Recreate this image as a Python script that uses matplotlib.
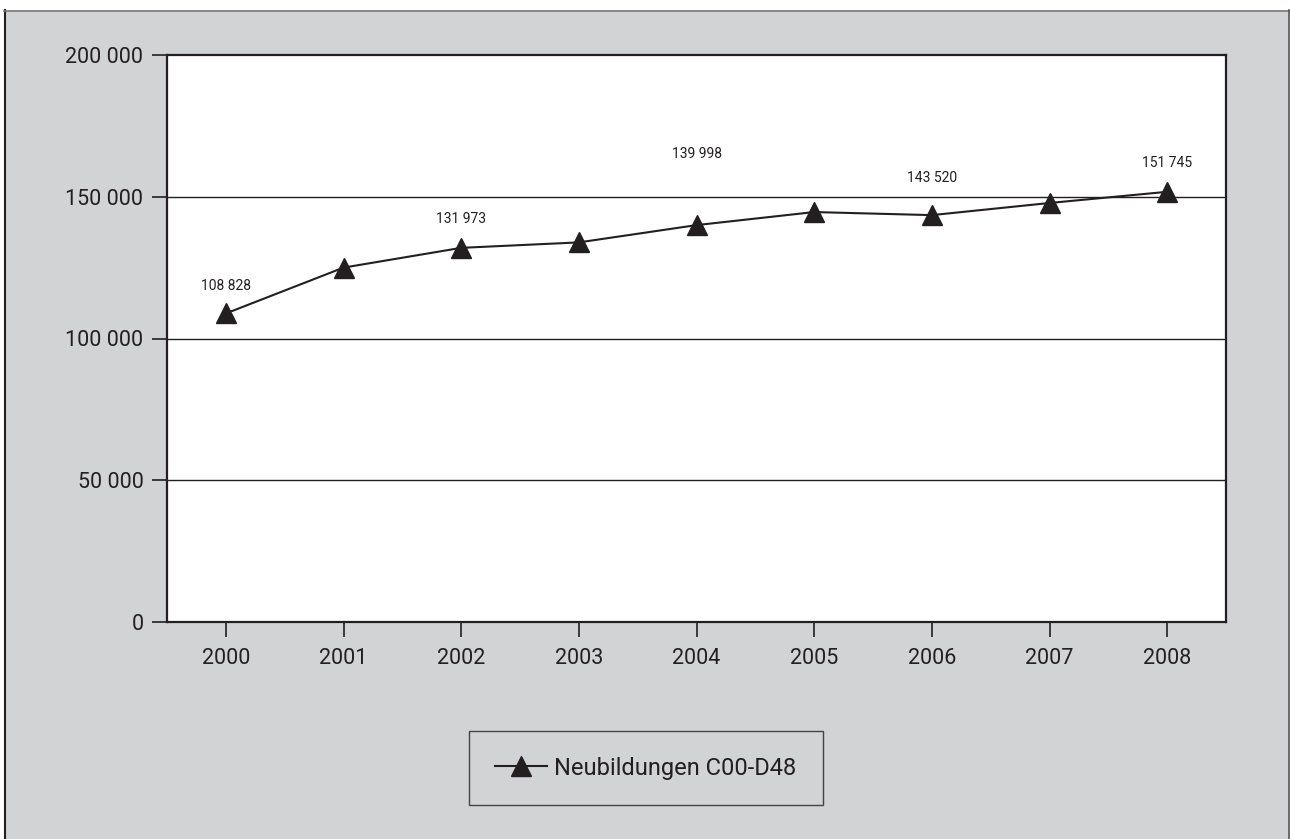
import matplotlib
matplotlib.use("Agg")
import matplotlib.pyplot as plt
from matplotlib.patches import Rectangle
from matplotlib.lines import Line2D

plt.rcParams["font.family"] = ["Roboto", "DejaVu Sans"]

years = ["2000", "2001", "2002", "2003", "2004", "2005", "2006", "2007", "2008"]
cases = [108828, 125000, 131973, 133900, 139998, 144600, 143520, 147800, 151745]
labelled_years = ["2000", "2002", "2004", "2006", "2008"]
y_ticks = [0, 50000, 100000, 150000, 200000]
series_name = "Neubildungen C00-D48"

W, H, DPI = 1290, 839, 100
BG = "#d2d3d5"
INK = "#231f20"

# vertical distance (points) of each value label above its marker
label_lift = {"2000": 20, "2002": 21, "2004": 51, "2006": 27, "2008": 21}

fig = plt.figure(figsize=(W / DPI, H / DPI), dpi=DPI, facecolor="white")

# grey panel behind the chart
fig.add_artist(Rectangle((4 / W, 0), (W - 5) / W, (H - 10) / H,
                         transform=fig.transFigure, facecolor=BG,
                         edgecolor="none", zorder=-10))
fig.add_artist(Line2D([4.5 / W, 4.5 / W], [0, (H - 10) / H], color=INK, lw=1.5, zorder=-5))
fig.add_artist(Line2D([4 / W, 1], [(H - 10.5) / H, (H - 10.5) / H], color="#7a7a7a", lw=1.2, zorder=-5))
fig.add_artist(Line2D([(W - 1.5) / W, (W - 1.5) / W], [0, (H - 10) / H], color="#555555", lw=1.2, zorder=-5))

left, right, top, bottom = 167, 1226, 55, 622
ax = fig.add_axes([left / W, 1 - bottom / H, (right - left) / W, (bottom - top) / H])
ax.set_zorder(2)
ax.set_facecolor("white")

x = list(range(len(years)))
ax.plot(x, cases, color=INK, lw=1.5, marker="^", markersize=15,
        markerfacecolor=INK, markeredgecolor=INK, zorder=4, clip_on=False)

for xi, yr, v in zip(x, years, cases):
    if yr in labelled_years:
        ax.annotate(f"{v:,}".replace(",", " "), (xi, v), xytext=(0, label_lift[yr]),
                    textcoords="offset points", ha="center", va="center",
                    fontsize=10, color=INK)

ax.set_xlim(-0.5, len(years) - 0.5)
ax.set_ylim(0, 200000)
ax.set_xticks(x)
ax.set_xticklabels(years)
ax.set_yticks(y_ticks)
ax.set_yticklabels([f"{t:,}".replace(",", " ") for t in y_ticks])

for t in y_ticks[1:-1]:
    ax.axhline(t, color=INK, lw=1.0, zorder=1)

for s in ax.spines.values():
    s.set_color(INK)
    s.set_linewidth(1.6)

ax.tick_params(axis="both", direction="out", length=11, width=1.2,
               colors=INK, labelsize=15.5, labelcolor=INK)
ax.tick_params(axis="y", pad=6)
ax.tick_params(axis="x", pad=8)

handle = Line2D([], [], color=INK, lw=1.5, marker="^", markersize=15,
                markerfacecolor=INK, markeredgecolor=INK)
leg = fig.legend([handle], [series_name], loc="center",
                 bbox_to_anchor=(646 / W, 1 - 768 / H), frameon=True,
                 fontsize=17, handlelength=2.2, handletextpad=0.3,
                 borderpad=1.1, borderaxespad=0, fancybox=False)
leg.get_frame().set_facecolor(BG)
leg.get_frame().set_edgecolor(INK)
leg.get_frame().set_linewidth(1.0)
for txt in leg.get_texts():
    txt.set_color(INK)

fig.savefig("out.png", dpi=DPI, facecolor=fig.get_facecolor())
